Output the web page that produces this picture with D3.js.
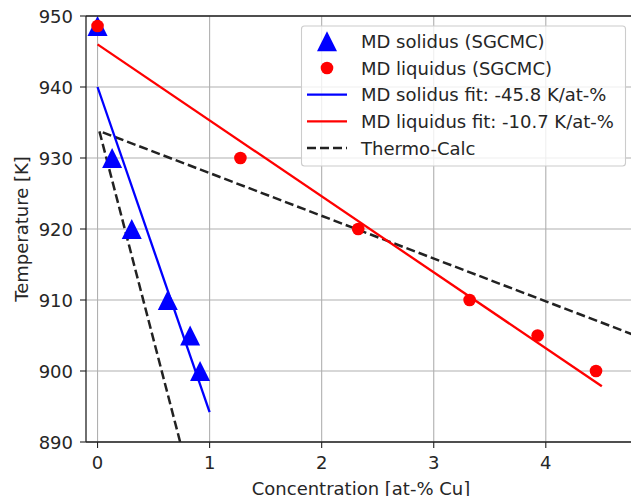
<!DOCTYPE html>
<html>
<head>
<meta charset="utf-8">
<script src="https://cdn.jsdelivr.net/npm/d3@7"></script>
<style>
  body { margin: 0; background: #fff; }
  text { font-family: "DejaVu Sans", sans-serif; fill: #262626; }
</style>
</head>
<body>
<svg width="631" height="496"></svg>
<script>
// MD data (SGCMC)
var solidusX = [0, 0.13, 0.305, 0.627, 0.826, 0.915];
var solidusT = [948.6, 930, 920, 910, 905, 900];
var liquidusX = [0, 1.275, 2.326, 3.32, 3.927, 4.448];
var liquidusT = [948.6, 930, 920, 910, 905, 900];

// linear fits: T = a + b*c
var solidusFit = { a: 940.0, b: -45.8, xmax: 1.0 };
var liquidusFit = { a: 946.0, b: -10.7, xmax: 4.5 };

// Thermo-Calc curve (solidus branch + liquidus branch)
var tcX = [0.737, 0.016, 4.8];
var tcT = [890, 933.8, 905.0];

var xTicks = [0, 1, 2, 3, 4];
var yTicks = [890, 900, 910, 920, 930, 940, 950];

var legendLabels = ["MD solidus (SGCMC)", "MD liquidus (SGCMC)",
    "MD solidus fit: -45.8 K/at-%", "MD liquidus fit: -10.7 K/at-%", "Thermo-Calc"];

var svg = d3.select("svg");
var pLeft = 86, pTop = 16, pBottom = 442, pRight = 700;
var fs = 18;
var dash = "9,4";

var x = d3.scaleLinear().domain([-0.103, 5.376]).range([pLeft, pRight]);
var y = d3.scaleLinear().domain([890, 950]).range([pBottom, pTop]);

svg.append("clipPath").attr("id", "clip")
    .append("rect").attr("x", pLeft).attr("y", pTop)
    .attr("width", pRight - pLeft).attr("height", pBottom - pTop);

// grid
var grid = svg.append("g");
grid.selectAll(".gx").data(xTicks).join("line")
    .attr("x1", d => x(d)).attr("x2", d => x(d))
    .attr("y1", pTop).attr("y2", pBottom)
    .attr("stroke", "#b0b0b0").attr("stroke-width", 1.1);
grid.selectAll(".gy").data(yTicks).join("line")
    .attr("x1", pLeft).attr("x2", pRight)
    .attr("y1", d => y(d)).attr("y2", d => y(d))
    .attr("stroke", "#b0b0b0").attr("stroke-width", 1.1);

var plot = svg.append("g").attr("clip-path", "url(#clip)");
var line = d3.line().x(d => x(d[0])).y(d => y(d[1]));

// Thermo-Calc
plot.append("path")
    .attr("d", line(tcX.map((v, i) => [v, tcT[i]])))
    .attr("fill", "none").attr("stroke", "#222").attr("stroke-width", 2.5)
    .attr("stroke-dasharray", dash);

// fits
[[solidusFit, "#0000ff"], [liquidusFit, "#ff0000"]].forEach(function (f) {
    var p = f[0];
    plot.append("path")
        .attr("d", line([[0, p.a], [p.xmax, p.a + p.b * p.xmax]]))
        .attr("fill", "none").attr("stroke", f[1]).attr("stroke-width", 2.3);
});

function triPath(s) {
    // '^' marker of width/height s, centred on its box
    return "M0," + (-s / 2) + "L" + (s / 2) + "," + (s / 2) + "L" + (-s / 2) + "," + (s / 2) + "Z";
}

plot.selectAll(".sol").data(solidusX).join("path")
    .attr("d", triPath(20))
    .attr("transform", (d, i) => "translate(" + x(d) + "," + y(solidusT[i]) + ")")
    .attr("fill", "#0000ff");

plot.selectAll(".liq").data(liquidusX).join("circle")
    .attr("cx", d => x(d)).attr("cy", (d, i) => y(liquidusT[i]))
    .attr("r", 6.3).attr("fill", "#ff0000");

// spines
svg.append("line").attr("x1", pLeft).attr("x2", 631).attr("y1", pTop).attr("y2", pTop)
    .attr("stroke", "#222").attr("stroke-width", 1.3);
svg.append("line").attr("x1", pLeft).attr("x2", 631).attr("y1", pBottom).attr("y2", pBottom)
    .attr("stroke", "#222").attr("stroke-width", 1.3);
svg.append("line").attr("x1", pLeft).attr("x2", pLeft).attr("y1", pTop).attr("y2", pBottom)
    .attr("stroke", "#222").attr("stroke-width", 1.3);

// ticks
svg.selectAll(".tx").data(xTicks).join("line")
    .attr("x1", d => x(d)).attr("x2", d => x(d))
    .attr("y1", pBottom).attr("y2", pBottom + 6)
    .attr("stroke", "#222").attr("stroke-width", 1.1);
svg.selectAll(".txl").data(xTicks).join("text")
    .attr("x", d => x(d)).attr("y", pBottom + 27)
    .attr("text-anchor", "middle").attr("font-size", fs).text(d => d);
svg.selectAll(".ty").data(yTicks).join("line")
    .attr("x1", pLeft - 6).attr("x2", pLeft)
    .attr("y1", d => y(d)).attr("y2", d => y(d))
    .attr("stroke", "#222").attr("stroke-width", 1.1);
svg.selectAll(".tyl").data(yTicks).join("text")
    .attr("x", pLeft - 13).attr("y", d => y(d) + 6.5)
    .attr("text-anchor", "end").attr("font-size", fs).text(d => d);

// axis labels
svg.append("text").attr("x", 361).attr("y", 495)
    .attr("text-anchor", "middle").attr("font-size", fs)
    .text("Concentration [at-% Cu]");
svg.append("text").attr("transform", "translate(28," + ((pTop + pBottom) / 2) + ") rotate(-90)")
    .attr("text-anchor", "middle").attr("font-size", fs)
    .text("Temperature [K]");

// legend
var lg = svg.append("g");
lg.append("rect").attr("x", 301.5).attr("y", 26).attr("width", 324).attr("height", 140)
    .attr("rx", 3).attr("fill", "#fff").attr("fill-opacity", 0.8)
    .attr("stroke", "#cccccc").attr("stroke-width", 1.1);
var rowY = legendLabels.map((d, i) => 41.3 + i * 26.7);
lg.append("path").attr("d", triPath(20))
    .attr("transform", "translate(327," + rowY[0] + ")").attr("fill", "#0000ff");
lg.append("circle").attr("cx", 327).attr("cy", rowY[1]).attr("r", 6.3).attr("fill", "#ff0000");
[["#0000ff", null, 2.3], ["#ff0000", null, 2.3], ["#222", dash, 2.5]].forEach(function (s, i) {
    lg.append("line").attr("x1", 307).attr("x2", 347)
        .attr("y1", rowY[i + 2]).attr("y2", rowY[i + 2])
        .attr("stroke", s[0]).attr("stroke-width", s[2])
        .attr("stroke-dasharray", s[1]);
});
lg.selectAll(".ll").data(legendLabels).join("text")
    .attr("x", 361).attr("y", (d, i) => rowY[i] + 6.5)
    .attr("font-size", fs).text(d => d);
</script>
</body>
</html>
